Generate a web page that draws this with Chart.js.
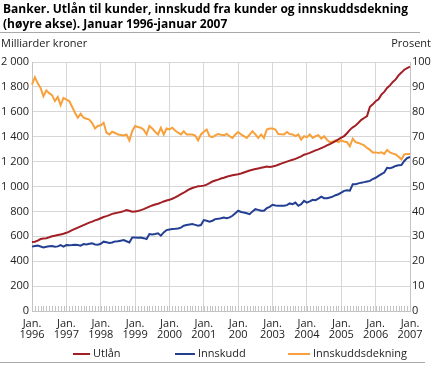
<!DOCTYPE html>
<html>
<head>
<meta charset="utf-8">
<script src="https://cdn.jsdelivr.net/npm/chart.js@4"></script>
<style>
  html, body { margin: 0; padding: 0; background: #fff; }
  #wrap { width: 433px; height: 365px; position: relative; }
</style>
</head>
<body>
<div id="wrap"><canvas id="chart"></canvas></div>
<script>
// --- Data (monthly, Jan 1996 - Jan 2007) ---
const yearLabels = ['1996', '1997', '1998', '1999', '2000', '2001', '200', '2003', '2004', '2005', '2006', '2007'];

// Utlån, milliarder kroner
const utlan = [
    555, 557, 565, 578, 582, 585, 592, 600, 605, 610, 615, 620,
    628, 638, 650, 660, 670, 680, 690, 700, 710, 718, 728, 735,
    745, 755, 762, 770, 780, 785, 790, 795, 802, 810, 805, 797,
    800, 803, 810, 818, 828, 838, 848, 855, 862, 870, 880, 888,
    893, 902, 912, 925, 938, 950, 965, 978, 988, 995, 1002, 1004,
    1007, 1015, 1028, 1040, 1048, 1055, 1064, 1070, 1078, 1085, 1090, 1095,
    1098, 1104, 1112, 1120, 1128, 1135, 1140, 1145, 1150, 1155, 1160, 1156,
    1160, 1166, 1175, 1184, 1192, 1200, 1208, 1215, 1222, 1232, 1242, 1255,
    1262, 1270, 1280, 1290, 1298, 1308, 1318, 1330, 1340, 1352, 1364, 1378,
    1392, 1405, 1428, 1455, 1475, 1490, 1512, 1535, 1550, 1565, 1640, 1660,
    1685, 1700, 1738, 1760, 1791, 1812, 1840, 1860, 1893, 1915, 1938, 1950,
    1962
];

// Innskudd, milliarder kroner
const innskudd = [
    517, 522, 525, 518, 511, 516, 520, 522, 517, 519, 530, 517,
    530, 528, 530, 533, 530, 525, 538, 535, 540, 543, 535, 533,
    540, 557, 552, 546, 550, 559, 560, 565, 570, 560, 551, 591,
    590, 588, 591, 585, 578, 618, 615, 618, 624, 605, 631, 650,
    655, 658, 660, 663, 670, 685, 690, 695, 698, 692, 685, 690,
    730, 725, 717, 725, 738, 740, 745, 751, 746, 752, 765, 785,
    805, 795, 791, 785, 778, 800, 818, 812, 805, 805, 826, 837,
    853, 848, 845, 845, 845, 850, 864, 858, 871, 845, 858, 885,
    871, 880, 893, 890, 903, 919, 906, 906, 912, 919, 930, 938,
    951, 965, 970, 966, 1018, 1018, 1025, 1031, 1035, 1040, 1045, 1060,
    1070, 1085, 1100, 1112, 1150, 1146, 1155, 1165, 1170, 1173, 1205, 1228,
    1237
];

// Innskuddsdekning, prosent (høyre akse)
const dekning = [
    90.9, 93.9, 91.5, 89.6, 86.2, 88.6, 87.5, 86.7, 84.3, 86.0, 82.7, 85.6,
    84.9, 84.3, 82.0, 79.6, 77.6, 79.2, 77.6, 77.2, 76.9, 75.5, 73.3, 74.3,
    74.6, 75.6, 71.6, 70.9, 72.0, 71.5, 70.9, 70.7, 70.5, 70.9, 68.5, 72.2,
    74.3, 73.9, 73.6, 72.8, 70.9, 74.3, 73.3, 72.0, 70.9, 73.6, 70.9, 73.3,
    72.9, 73.6, 72.5, 71.6, 70.9, 72.2, 70.9, 70.9, 70.9, 70.5, 68.5, 70.9,
    72.0, 72.9, 70.2, 69.8, 70.5, 71.1, 70.8, 70.6, 71.1, 70.2, 69.5, 70.9,
    71.9, 70.9, 70.2, 69.5, 70.8, 72.2, 70.9, 69.5, 70.9, 69.5, 72.9, 73.3,
    73.3, 72.9, 71.1, 71.0, 70.9, 71.9, 71.1, 70.9, 70.2, 70.9, 68.8, 70.2,
    69.8, 70.9, 69.5, 70.2, 70.6, 69.2, 70.2, 68.8, 67.8, 68.1, 68.5, 67.8,
    68.5, 68.1, 67.8, 66.1, 69.2, 67.8, 67.5, 67.0, 66.5, 65.5, 64.7, 63.7,
    63.7, 63.5, 63.7, 63.1, 64.7, 63.7, 63.2, 62.9, 61.9, 60.9, 62.9, 63.1,
    63.1
];

const seriesNames = ['Utlån', 'Innskudd', 'Innskuddsdekning'];
const colors = ['#a21f25', '#233f92', '#f8a13c'];

// month index labels
const months = utlan.map((v, i) => String(i));

const FONT = '"Open Sans", "DejaVu Sans", sans-serif';
const gridColor = '#d6d6d6';

function fmt(v) {
    if (v >= 1000) return Math.floor(v / 1000) + ' ' + String(v % 1000).padStart(3, '0');
    return String(v);
}

// --- Tittel, akser og legend tegnes her ---
const decor = {
    id: 'decor',
    beforeDatasetsDraw(chart) {
        const { ctx, chartArea, scales } = chart;
        ctx.save();
        ctx.strokeStyle = '#c4c4c4';
        ctx.lineWidth = 1;
        for (let i = 0; i < months.length; i++) {
            const x = Math.round(scales.x.getPixelForValue(i)) + 0.5;
            ctx.beginPath();
            ctx.moveTo(x, chartArea.bottom);
            ctx.lineTo(x, chartArea.bottom - 5);
            ctx.stroke();
        }
        ctx.restore();
    },
    afterDraw(chart) {
        const ctx = chart.ctx;
        ctx.save();
        // title
        ctx.fillStyle = '#000';
        ctx.font = 'bold 12px ' + FONT;
        ctx.textBaseline = 'middle';
        ctx.textAlign = 'left';
        ctx.fillText('Banker. Utlån til kunder, innskudd fra kunder og innskuddsdekning', 3, 10);
        ctx.fillText('(høyre akse). Januar 1996-januar 2007', 3, 25);
        // separators
        ctx.strokeStyle = '#a8a8a8';
        ctx.lineWidth = 1;
        ctx.beginPath();
        ctx.moveTo(0, 32.5); ctx.lineTo(420, 32.5);
        ctx.moveTo(0, 362.5); ctx.lineTo(425, 362.5);
        ctx.stroke();
        // axis titles
        ctx.fillStyle = '#222';
        ctx.font = '11px ' + FONT;
        ctx.fillText('Milliarder kroner', 1, 44);
        ctx.textAlign = 'right';
        ctx.fillText('Prosent', 431, 44);
        // legend
        const items = [[73, 90, 93], [175, 195, 198], [288, 310, 313]];
        ctx.textAlign = 'left';
        items.forEach((it, k) => {
            ctx.strokeStyle = colors[k];
            ctx.lineWidth = 2;
            ctx.beginPath();
            ctx.moveTo(it[0], 354); ctx.lineTo(it[1], 354);
            ctx.stroke();
            ctx.fillStyle = '#222';
            ctx.fillText(seriesNames[k], it[2], 354);
        });
        ctx.restore();
    }
};

const ctx = document.getElementById('chart').getContext('2d');
new Chart(ctx, {
    type: 'line',
    data: {
        labels: months,
        datasets: [
            { label: seriesNames[0], data: utlan, borderColor: colors[0], yAxisID: 'y' },
            { label: seriesNames[1], data: innskudd, borderColor: colors[1], yAxisID: 'y' },
            { label: seriesNames[2], data: dekning, borderColor: colors[2], yAxisID: 'y1' }
        ]
    },
    options: {
        responsive: true,
        maintainAspectRatio: false,
        animation: false,
        layout: { padding: { top: 62, left: 0, right: 0, bottom: 0 } },
        elements: {
            point: { radius: 0 },
            line: { borderWidth: 2, tension: 0 }
        },
        plugins: {
            legend: { display: false },
            title: { display: false },
            tooltip: { enabled: false }
        },
        scales: {
            x: {
                offset: false,
                afterFit: (s) => { s.height = 54; },
                grid: {
                    color: (c) => (c.index % 12 === 0 ? gridColor : 'transparent'),
                    drawTicks: false
                },
                border: { color: '#c4c4c4' },
                ticks: {
                    autoSkip: false,
                    maxRotation: 0,
                    padding: 7,
                    color: '#222',
                    font: { family: FONT, size: 11, lineHeight: 1.0 },
                    callback: (v, i) => (i % 12 === 0 ? ['Jan.', yearLabels[i / 12]] : '')
                }
            },
            y: {
                position: 'left',
                min: 0,
                max: 2000,
                afterFit: (s) => { s.width = 32; },
                grid: { color: gridColor, drawTicks: false },
                border: { color: '#c4c4c4' },
                ticks: {
                    stepSize: 200,
                    padding: 3,
                    color: '#222',
                    font: { family: FONT, size: 11 },
                    callback: (v) => fmt(v)
                }
            },
            y1: {
                position: 'right',
                min: 0,
                max: 100,
                afterFit: (s) => { s.width = 23; },
                grid: { drawOnChartArea: false, drawTicks: false },
                border: { color: '#c4c4c4' },
                ticks: {
                    stepSize: 10,
                    padding: 2,
                    color: '#222',
                    font: { family: FONT, size: 11 }
                }
            }
        }
    },
    plugins: [decor]
});
</script>
</body>
</html>
